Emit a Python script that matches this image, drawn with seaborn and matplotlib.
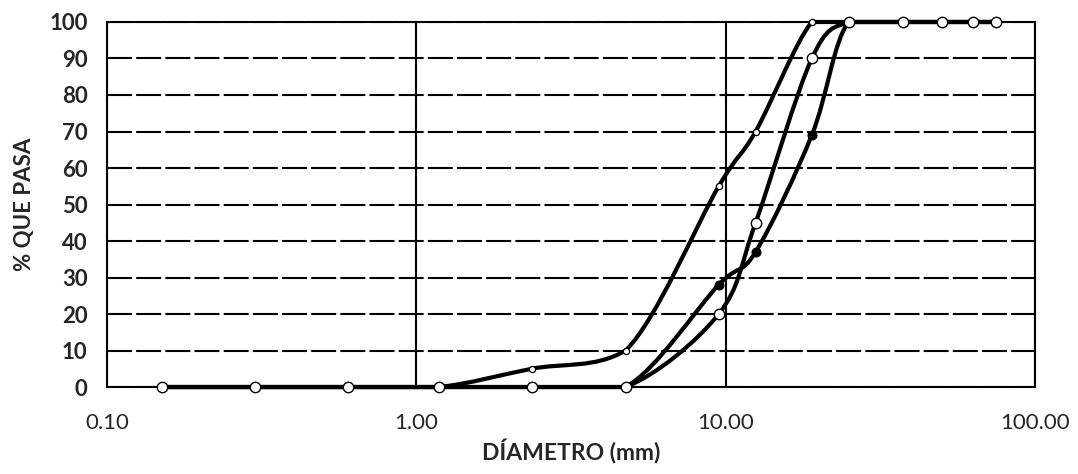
import numpy as np
import pandas as pd
import matplotlib
matplotlib.use("Agg")
import matplotlib.pyplot as plt
import seaborn as sns
from matplotlib.path import Path
from matplotlib.patches import PathPatch
from matplotlib.ticker import NullLocator

# sieve openings (mm) and % passing
sieves = [0.15, 0.3, 0.6, 1.18, 2.36, 4.75, 9.5, 12.5, 19, 25, 37.5, 50, 63, 75]
upper = [0, 0, 0, 0, 5, 10, 55, 70, 100, 100, 100, 100, 100, 100]
lower = [0, 0, 0, 0, 0, 0, 20, 45, 90, 100, 100, 100, 100, 100]
sample = [0, 0, 0, 0, 0, 0, 28, 37, 69, 100, 100, 100, 100, 100]

xticks = [0.1, 1, 10, 100]
xticklabels = ["0.10", "1.00", "10.00", "100.00"]
yticks = list(range(0, 101, 10))


def smooth_path(xs, ys):
    # excel-like smoothed line, control points worked out in log(x) space
    pts = np.column_stack([np.log10(xs), np.asarray(ys, float)])
    n = len(pts)
    verts = [pts[0]]
    codes = [Path.MOVETO]
    for i in range(n - 1):
        p0 = pts[max(i - 1, 0)]
        p1 = pts[i]
        p2 = pts[i + 1]
        p3 = pts[min(i + 2, n - 1)]
        c1 = p1 + (p2 - p0) / 6
        c2 = p2 - (p3 - p1) / 6
        lo, hi = min(p1[1], p2[1]), max(p1[1], p2[1])
        c1[1] = np.clip(c1[1], lo, hi)
        c2[1] = np.clip(c2[1], lo, hi)
        verts += [c1, c2, p2]
        codes += [Path.CURVE4] * 3
    v = np.array(verts)
    v[:, 0] = 10 ** v[:, 0]
    return Path(v, codes)


sns.set_style("white")
plt.rcParams['font.family'] = ['Lato', 'DejaVu Sans']

fig, ax = plt.subplots(figsize=(10.78, 4.74), dpi=100)
fig.subplots_adjust(left=0.0993, right=0.960, top=0.9536, bottom=0.1835)

ax.set_xscale('log')
ax.set_xlim(0.1, 100)
ax.set_ylim(0, 100)

for ys in [upper, lower, sample]:
    ax.add_patch(PathPatch(smooth_path(sieves, ys), fill=False, edgecolor='black',
                           lw=3.0, zorder=3, clip_on=False, capstyle='round'))

df = pd.DataFrame({'d': sieves, 'upper': upper, 'lower': lower, 'sample': sample})
sns.scatterplot(data=df, x='d', y='upper', ax=ax, s=20, color='white',
                edgecolor='black', linewidth=0.9, zorder=4, clip_on=False)
sns.scatterplot(data=df, x='d', y='sample', ax=ax, s=40, color='black',
                edgecolor='black', linewidth=0.9, zorder=5, clip_on=False)
sns.scatterplot(data=df, x='d', y='lower', ax=ax, s=56, color='white',
                edgecolor='black', linewidth=1.0, zorder=6, clip_on=False)

ax.set_xticks(xticks)
ax.set_xticklabels(xticklabels, fontsize=16)
ax.xaxis.set_minor_locator(NullLocator())
ax.set_yticks(yticks)
ax.set_yticklabels([str(t) for t in yticks], fontsize=16, fontweight='bold')

ax.yaxis.grid(True, color='black', lw=1.5, linestyle=(0, (12, 2)))
ax.xaxis.grid(True, which='major', color='black', lw=1.5, linestyle='-')
ax.set_axisbelow(True)
for s in ax.spines.values():
    s.set_color('black')
    s.set_linewidth(1.5)

ax.tick_params(axis='both', direction='out', length=7, width=1.2, color='black')
ax.tick_params(axis='y', pad=7)
ax.tick_params(axis='x', pad=12)

ax.set_xlabel('DÍAMETRO (mm)', fontsize=16.5, fontweight='bold', labelpad=4)
ax.set_ylabel('% QUE PASA', fontsize=16, fontweight='bold', labelpad=10)

fig.savefig('out.png', dpi=100)
